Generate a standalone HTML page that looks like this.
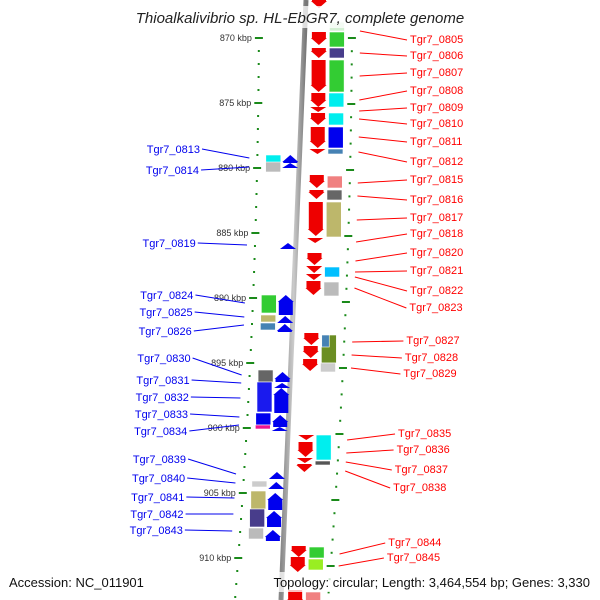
<!DOCTYPE html>
<html><head><meta charset="utf-8"><style>
html,body{margin:0;padding:0;background:#fff}
svg{display:block}
text{font-family:"Liberation Sans",sans-serif}
</style></head><body>
<svg id="c" width="600" height="600" viewBox="0 0 600 600" xmlns="http://www.w3.org/2000/svg">
<defs>
<linearGradient id="gl" x1="0" x2="1" y1="0" y2="0"><stop offset="0" stop-color="#888"/><stop offset="0.5" stop-color="#ccc"/><stop offset="1" stop-color="#777"/></linearGradient>
</defs>
<line x1="306" y1="0" x2="281" y2="600" stroke="url(#gl)" stroke-width="5"/>
<g id="ticks"></g><g id="genes"></g><g id="labels"></g>
<rect x="128" y="6" width="345" height="22" fill="#fff" fill-opacity="0.75"/>
<text x="300" y="23" text-anchor="middle" font-size="15" font-style="italic" fill="#222">Thioalkalivibrio sp. HL-EbGR7, complete genome</text>
<rect x="5" y="572" width="145" height="20" fill="#fff" fill-opacity="0.75"/>
<text x="9" y="587" font-size="13" fill="#111">Accession: NC_011901</text>
<rect x="258" y="572" width="337" height="20" fill="#fff" fill-opacity="0.75"/>
<text x="590" y="587" text-anchor="end" font-size="13" fill="#111">Topology: circular; Length: 3,464,554 bp; Genes: 3,330</text>
</svg>
<script>
const kbpTicks = [870,875,880,885,890,895,900,905,910];
const redGenes = [[-5,8],[32,45],[48,58],[60,92],[93,107],[107,112],[113,125],[127,148],[149,154],[175,188],[190,199],[202,236],[238,243],[253,265],[266,273],[274,280],[281,295],[333,345],[346,358],[359,371],[435,440],[442,457],[458,463],[464,472],[546,557],[557,572],[590,606]];
const redBoxes = [[22,31,'#d3f0d3',1],[32,47,'#33cc33',1],[48,58,'#483d8b',1],[60,92,'#33cc33',1],[93,107,'#00eeee',1],[113,125,'#00eeee',1],[127,148,'#0000ee',1],[149,154,'#4682b4',1],[176,188,'#f08080',1],[190,200,'#666666',1],[202,237,'#bdb76b',1],[267,277,'#00bfff',1],[282,296,'#bbbbbb',1],[335,363,'#6b8e23',1],[335,347,'#4682b4',0.5],[363,372,'#cccccc',1],[435,460,'#00eeee',1],[461,465,'#555555',1],[547,558,'#33cc33',1],[559,570,'#99ee22',1],[592,606,'#f08080',1]];
const blueGenes = [[155,163],[163,168],[243,249],[295,315],[316,323],[324,332],[372,382],[383,388],[388,413],[415,427],[427,431],[472,479],[482,489],[493,510],[511,527],[530,541]];
const blueBoxes = [[155,163,'#00eeee'],[162,172,'#bbbbbb'],[295,313,'#33cc33'],[315,322,'#bdb76b'],[323,330,'#4682b4'],[370,382,'#666666'],[382,412,'#1a1aee'],[413,425,'#0000ee'],[425,429,'#ee1493'],[481,487,'#cccccc'],[491,509,'#bdb76b'],[509,527,'#483d8b'],[528,539,'#bbbbbb']];
const rightNames = ['Tgr7_0805','Tgr7_0806','Tgr7_0807','Tgr7_0808','Tgr7_0809','Tgr7_0810','Tgr7_0811','Tgr7_0812','Tgr7_0815','Tgr7_0816','Tgr7_0817','Tgr7_0818','Tgr7_0820','Tgr7_0821','Tgr7_0822','Tgr7_0823','Tgr7_0827','Tgr7_0828','Tgr7_0829','Tgr7_0835','Tgr7_0836','Tgr7_0837','Tgr7_0838','Tgr7_0844','Tgr7_0845'];
const rightLabelY = [39,55,72,90,107,123,141,161,179,199,217,233,252,270,290,307,340,357,373,433,449,469,487,542,557];
const rightAnchorY = [31,53,76,100,111,119,137,152,183,196,220,242,261,272,277,288,342,355,368,440,453,462,471,554,566];
const leftNames = ['Tgr7_0813','Tgr7_0814','Tgr7_0819','Tgr7_0824','Tgr7_0825','Tgr7_0826','Tgr7_0830','Tgr7_0831','Tgr7_0832','Tgr7_0833','Tgr7_0834','Tgr7_0839','Tgr7_0840','Tgr7_0841','Tgr7_0842','Tgr7_0843'];
const leftLabelY = [149,170,243,295,312,331,358,380,397,414,431,459,478,497,514,530];
const leftAnchorY = [158,167,245,303,317,325,375,383,398,417,425,474,483,498,514,531];

const NS='http://www.w3.org/2000/svg';
function base(y){return 305-0.04*y+6*(1-Math.pow((y-300)/300,2));}
function yLeft(k){return 38+13*(k-870);}
function yRight(k){return 38+13.2*(k-870);}
function mk(tag,attrs,parent){const e=document.createElementNS(NS,tag);for(const k in attrs)e.setAttribute(k,attrs[k]);parent.appendChild(e);return e;}
const gT=document.getElementById('ticks'),gG=document.getElementById('genes'),gL=document.getElementById('labels');
// ticks
for(let k=870;k<=913;k++){
  const yl=yLeft(k),xl=base(yl)-46;
  const major=(k%5===0);
  const t=mk('line',{x1:xl-(major?4:1),x2:xl+(major?4:1),y1:yl,y2:yl,stroke:'#1a8a1a','stroke-width':2},gT);
  
  
  const yr=yRight(k),xr=base(yr)+47;
  const t2=mk('line',{x1:xr-(major?4:1),x2:xr+(major?4:1),y1:yr,y2:yr,stroke:'#1a8a1a','stroke-width':2},gT);
  
  
}
kbpTicks.forEach(k=>{
  const y=yLeft(k),x=base(y)-53;
  const t=mk('text',{x:x,y:y+3,'text-anchor':'end','font-size':9,fill:'#333'},gT);
  t.textContent=k+' kbp';
  
  
});
// boxes
redBoxes.forEach(b=>{
  const ym=(b[0]+b[1])/2,cx=base(ym)+32,w=15*b[3];
  const r=mk('rect',{x:cx-7.5,y:b[0],width:w,height:b[1]-b[0],fill:b[2],stroke:'#fff','stroke-width':0.6},gG);
  
  
});
blueBoxes.forEach(b=>{
  const ym=(b[0]+b[1])/2,cx=base(ym)-30;
  const r=mk('rect',{x:cx-7.5,y:b[0],width:15,height:b[1]-b[0],fill:b[2],stroke:'#fff','stroke-width':0.6},gG);
  
  
});
function arrow(y0,y1,cx,down,color){
  const len=y1-y0,h=Math.min(7,len);
  let pts;
  if(down) pts=[[cx-7,y0],[cx+7,y0],[cx+7,y1-h],[cx+8,y1-h],[cx,y1],[cx-8,y1-h],[cx-7,y1-h]];
  else pts=[[cx-7,y1],[cx+7,y1],[cx+7,y0+h],[cx+8,y0+h],[cx,y0],[cx-8,y0+h],[cx-7,y0+h]];
  return mk('polygon',{points:pts.map(p=>p.join(',')).join(' '),fill:color},gG);
}
redGenes.forEach(g=>{
  const cx=base((g[0]+g[1])/2)+14;
  const a=arrow(g[0],g[1],cx,true,'#ee0000');
  
  
});
blueGenes.forEach(g=>{
  const cx=base((g[0]+g[1])/2)-13;
  const a=arrow(g[0],g[1],cx,false,'#0000ee');
  
  
});
// labels
rightNames.forEach((n,i)=>{
  const ya=rightAnchorY[i],xa=base(ya)+55;
  const yl=rightLabelY[i],xt=410-(yl>300?(yl-300)*0.09:0);
  const l=mk('line',{x1:xa,y1:ya,x2:xt-3,y2:yl+1,stroke:'#ff0000','stroke-width':1},gL);
  
  
  const t=mk('text',{x:xt,y:yl+4,'font-size':11,fill:'#ff0000'},gL);
  t.textContent=n;
  
  
});
leftNames.forEach((n,i)=>{
  const ya=leftAnchorY[i],xa=base(ya)-54;
  const yl=leftLabelY[i],xt=200-(yl-149)*0.045;
  const l=mk('line',{x1:xt+2,y1:yl,x2:xa,y2:ya,stroke:'#0000ee','stroke-width':1},gL);
  
  
  const t=mk('text',{x:xt,y:yl+4,'text-anchor':'end','font-size':11,fill:'#0000ee'},gL);
  t.textContent=n;
  
  
});
</script>
</body></html>
